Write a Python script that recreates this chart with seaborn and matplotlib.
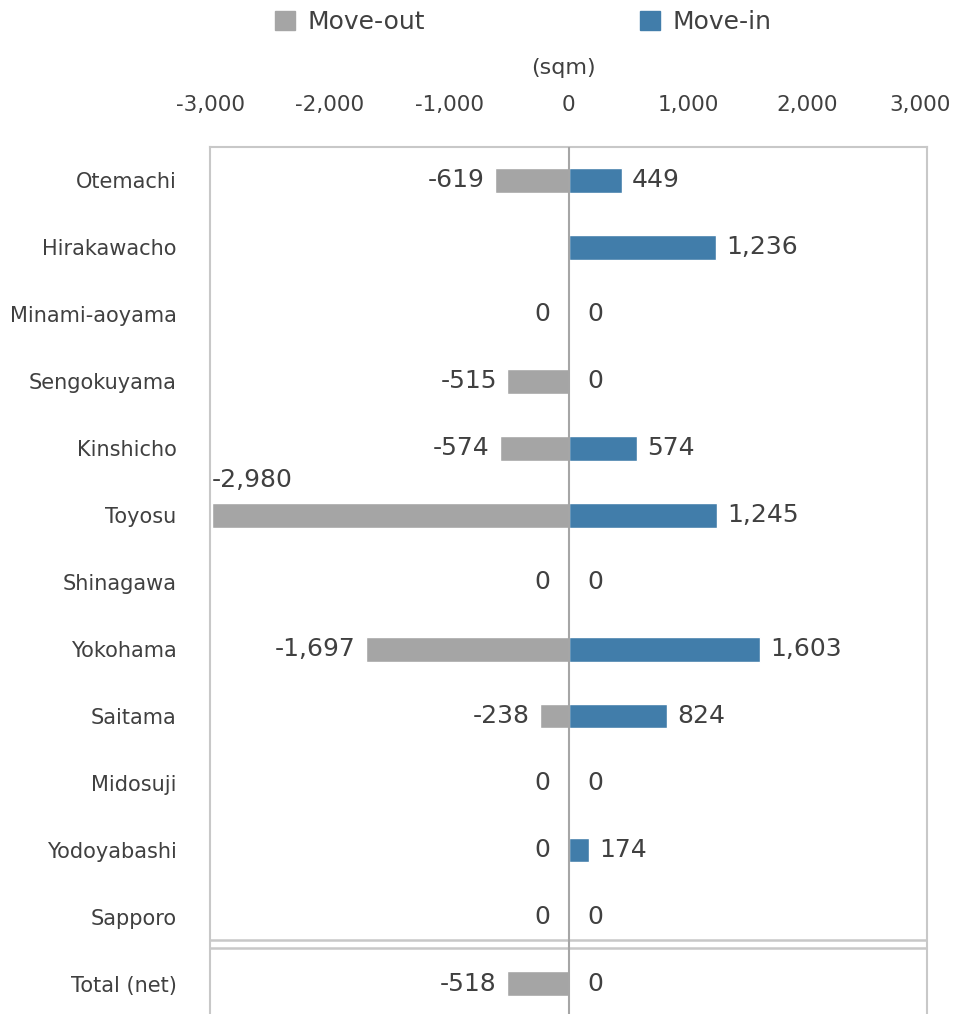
import matplotlib
matplotlib.use('Agg')
import matplotlib.pyplot as plt
import matplotlib.transforms as mtransforms
import pandas as pd
import seaborn as sns
from matplotlib.patches import Patch

sns.set_theme(style='white')
plt.rcParams['font.family'] = ['DejaVu Sans']

locations = ['Otemachi', 'Hirakawacho', 'Minami-aoyama', 'Sengokuyama', 'Kinshicho',
             'Toyosu', 'Shinagawa', 'Yokohama', 'Saitama', 'Midosuji', 'Yodoyabashi',
             'Sapporo', 'Total (net)']
# Hirakawacho has no move-out entry (no label shown)
move_out = [-619, None, 0, -515, -574, -2980, 0, -1697, -238, 0, 0, 0, -518]
move_in = [449, 1236, 0, 0, 574, 1245, 0, 1603, 824, 0, 174, 0, 0]
x_ticks = [-3000, -2000, -1000, 0, 1000, 2000, 3000]

gray = '#A5A5A5'
blue = '#417DAA'
text_color = '#404040'
frame = '#C8C8C8'

df = pd.DataFrame({
    'location': locations * 2,
    'value': move_out + move_in,
    'type': ['Move-out'] * len(locations) + ['Move-in'] * len(locations),
})

fig = plt.figure(figsize=(9.55, 10.14), dpi=100)
ax = fig.add_axes([210 / 955, 0, (927 - 210) / 955, (1014 - 147) / 1014])

sns.barplot(data=df, x='value', y='location', hue='type', orient='h', dodge=False,
            palette={'Move-out': gray, 'Move-in': blue}, width=0.37,
            legend=False, ax=ax, saturation=1)

ax.set_xlim(-3000, 3000)
ax.set_ylim(12.45, -0.5)
ax.set_xlabel('')
ax.set_ylabel('')

ax.xaxis.tick_top()
ax.set_xticks(x_ticks)
ax.set_xticklabels([f'{t:,}' for t in x_ticks])
ax.tick_params(axis='x', length=0, pad=23, labelsize=15.5, labelcolor=text_color)
ax.tick_params(axis='y', length=0, pad=24, labelsize=15, labelcolor=text_color)
# nudge the last tick label so it stays inside the figure
last = ax.get_xticklabels()[-1]
last.set_transform(last.get_transform() +
                   mtransforms.ScaledTranslation(-7 / 100, 0, fig.dpi_scale_trans))

for side in ['left', 'right', 'top']:
    ax.spines[side].set_color(frame)
    ax.spines[side].set_linewidth(1.5)
ax.spines['bottom'].set_visible(False)

ax.axvline(0, color='#A6A6A6', lw=1.5, zorder=3)
ax.axhline(11.35, color=frame, lw=1.8)
ax.axhline(11.46, color=frame, lw=1.8)

px = 72 / 100
for i, (o, n) in enumerate(zip(move_out, move_in)):
    if o is None:
        pass
    elif o <= -2900:
        ax.text(-2985, i - 0.52, f'{o:,}', ha='left', va='center', fontsize=18, color=text_color)
    elif o < 0:
        ax.annotate(f'{o:,}', (o, i), xytext=(-10 * px, 0), textcoords='offset points',
                    ha='right', va='center', fontsize=18, color=text_color)
    else:
        ax.annotate('0', (0, i), xytext=(-18 * px, 0), textcoords='offset points',
                    ha='right', va='center', fontsize=18, color=text_color)
    off = 10 if n > 0 else 19
    ax.annotate(f'{n:,}', (n, i), xytext=(off * px, 0), textcoords='offset points',
                ha='left', va='center', fontsize=18, color=text_color)

fig.text(563 / 955, 1 - 68 / 1014, '(sqm)', ha='center', va='center', fontsize=16, color=text_color)

handles = [Patch(color=gray, label='Move-out'), Patch(color=blue, label='Move-in')]
fig.legend(handles=handles, loc='center', bbox_to_anchor=(0.548, 1 - 22 / 1014), ncol=2,
           frameon=False, fontsize=18, handlelength=0.8, handleheight=0.8,
           handletextpad=0.5, columnspacing=8.6, labelcolor=text_color)

fig.savefig('out.png', dpi=100)
